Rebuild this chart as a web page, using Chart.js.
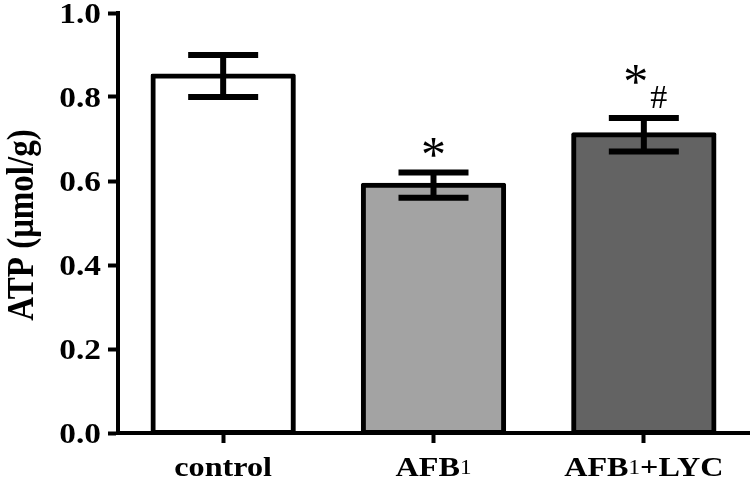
<!DOCTYPE html>
<html>
<head>
<meta charset="utf-8">
<script src="https://cdn.jsdelivr.net/npm/chart.js@4/dist/chart.umd.min.js"></script>
<style>
html,body{margin:0;padding:0;background:#fff;}
#wrap{width:750px;height:481px;position:relative;}
</style>
</head>
<body>
<div id="wrap"><canvas id="c" width="750" height="481"></canvas></div>
<script>
const categories = ['control', 'AFB\u2081', 'AFB\u2081+LYC'];
const atpMeans = [0.85, 0.59, 0.71];
const atpErrors = [0.05, 0.03, 0.04];
const significance = ['', '*', '*#'];
const yTicks = [0.0, 0.2, 0.4, 0.6, 0.8, 1.0];
const yTitle = 'ATP (\u03bcmol/g)';

const SERIF = "'Liberation Serif', 'Times New Roman', serif";
const STRETCH = 1.15;

const errorBars = {
  id: 'errorBars',
  afterDatasetsDraw(chart) {
    const ctx = chart.ctx;
    const meta = chart.getDatasetMeta(0);
    const ys = chart.scales.y;
    ctx.save();
    ctx.strokeStyle = '#000';
    ctx.fillStyle = '#000';
    ctx.lineWidth = 6;
    ctx.lineCap = 'butt';
    meta.data.forEach((bar, i) => {
      const x = bar.x;
      const yT = ys.getPixelForValue(atpMeans[i] + atpErrors[i]);
      const yB = ys.getPixelForValue(atpMeans[i] - atpErrors[i]);
      const half = 35;
      ctx.beginPath();
      ctx.moveTo(x, yT); ctx.lineTo(x, yB);
      ctx.moveTo(x - half, yT); ctx.lineTo(x + half, yT);
      ctx.moveTo(x - half, yB); ctx.lineTo(x + half, yB);
      ctx.stroke();
      const mark = significance[i];
      ctx.textAlign = 'center';
      ctx.textBaseline = 'alphabetic';
      if (mark === '*') {
        ctx.font = '50px ' + SERIF;
        ctx.fillText('*', x, yT - 2);
      } else if (mark === '*#') {
        ctx.font = '50px ' + SERIF;
        ctx.fillText('*', x - 8, yT - 20);
        ctx.font = '34px ' + SERIF;
        ctx.fillText('#', x + 15, yT - 10);
      }
    });
    ctx.restore();
  },
  afterDraw(chart) {
    const ctx = chart.ctx;
    const xs = chart.scales.x;
    const ys = chart.scales.y;
    ctx.save();
    ctx.fillStyle = '#000';
    ctx.textBaseline = 'alphabetic';

    // y tick labels
    ctx.font = 'bold 29px ' + SERIF;
    ctx.textAlign = 'right';
    ys.ticks.forEach(t => {
      const y = ys.getPixelForValue(t.value);
      ctx.save();
      ctx.translate(101, y + 10);
      ctx.scale(STRETCH, 1);
      ctx.fillText(Number(t.value).toFixed(1), 0, 0);
      ctx.restore();
    });

    // x category labels
    ctx.textAlign = 'left';
    const mainFont = 'bold 28px ' + SERIF;
    const subFont = '20px ' + SERIF;
    categories.forEach((label, i) => {
      const parts = label.split('\u2081');
      const segs = [];
      parts.forEach((p, k) => {
        if (p) segs.push({t: p, f: mainFont, dy: 0});
        if (k < parts.length - 1) segs.push({t: '1', f: subFont, dy: -2});
      });
      let w = 0;
      segs.forEach(s => { ctx.font = s.f; s.w = ctx.measureText(s.t).width * STRETCH; w += s.w; });
      let x = xs.getPixelForValue(i) - w / 2;
      const base = 476;
      segs.forEach(s => {
        ctx.save();
        ctx.font = s.f;
        ctx.translate(x, base + s.dy);
        ctx.scale(STRETCH, 1);
        ctx.fillText(s.t, 0, 0);
        ctx.restore();
        x += s.w;
      });
    });

    // y axis title
    ctx.save();
    ctx.font = 'bold 33px ' + SERIF;
    ctx.textAlign = 'center';
    ctx.translate(33, (ys.top + ys.bottom) / 2 + 2);
    ctx.rotate(-Math.PI / 2);
    ctx.scale(1, 1.12);
    ctx.fillText(yTitle, 0, 0);
    ctx.restore();

    ctx.restore();
  }
};

new Chart(document.getElementById('c'), {
  type: 'bar',
  data: {
    labels: categories,
    datasets: [{
      data: atpMeans,
      backgroundColor: ['#ffffff', '#a3a3a3', '#636363'],
      borderColor: '#000',
      borderWidth: 5,
      borderSkipped: false,
      borderRadius: 2,
      inflateAmount: 2.5,
      barPercentage: 0.667,
      categoryPercentage: 1.0
    }]
  },
  options: {
    responsive: false,
    animation: false,
    devicePixelRatio: 1,
    layout: { padding: { top: 13, right: 1, bottom: 0, left: 0 } },
    plugins: { legend: { display: false }, tooltip: { enabled: false } },
    scales: {
      x: {
        offset: true,
        grid: { display: true, offset: false, drawOnChartArea: false, drawTicks: true, tickLength: 10, tickWidth: 4, color: '#000' },
        border: { display: true, width: 4, color: '#000' },
        ticks: { display: false },
        afterFit(scale) { scale.height = 48; }
      },
      y: {
        min: 0, max: 1.0,
        afterBuildTicks(scale) { scale.ticks = yTicks.map(v => ({ value: v })); },
        ticks: { display: false },
        grid: { display: true, drawOnChartArea: false, drawTicks: true, tickLength: 10, tickWidth: 4, color: '#000' },
        border: { display: true, width: 4, color: '#000' },
        title: { display: false, text: yTitle },
        afterFit(scale) { scale.width = 118; scale.paddingTop = 0; scale.paddingBottom = 0; }
      }
    }
  },
  plugins: [errorBars]
});
</script>
</body>
</html>
